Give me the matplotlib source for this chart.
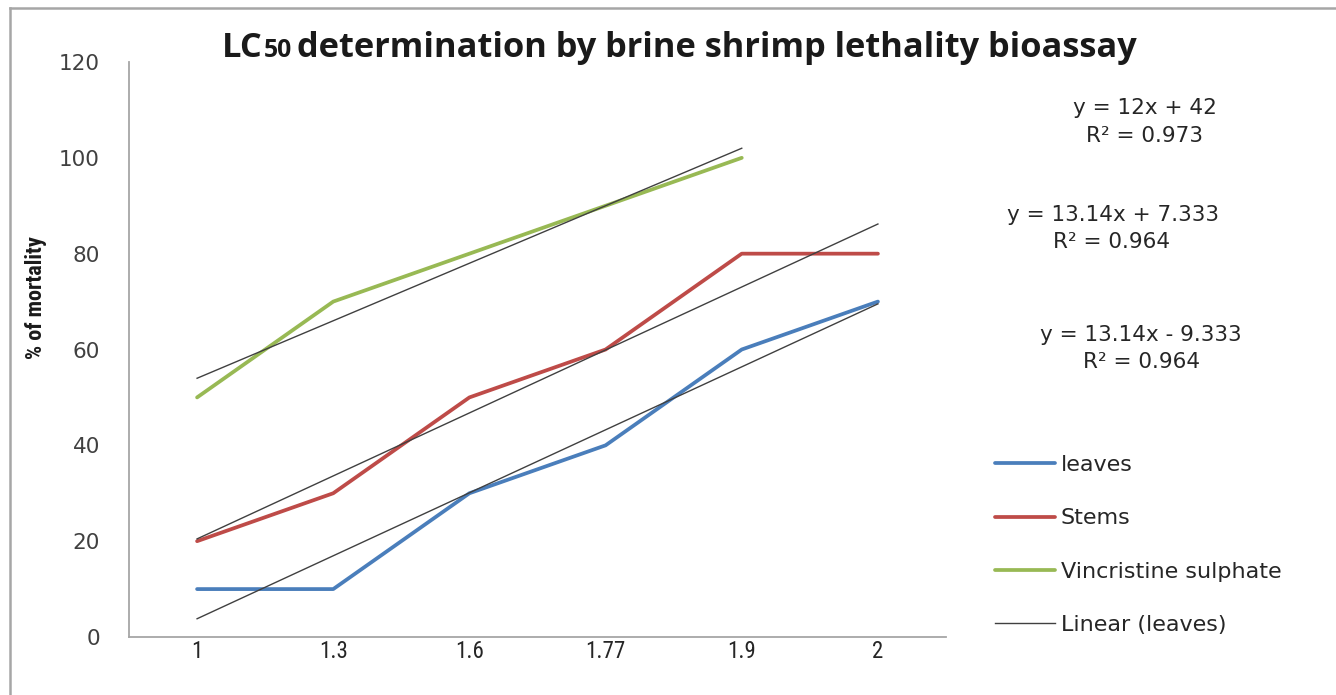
import numpy as np
import matplotlib
matplotlib.use("Agg")
import matplotlib.pyplot as plt
from matplotlib.lines import Line2D

categories = ["1", "1.3", "1.6", "1.77", "1.9", "2"]
leaves = [10, 10, 30, 40, 60, 70]
stems = [20, 30, 50, 60, 80, 80]
vincristine = [50, 70, 80, 90, 100]
eq_labels = [("y = 12x + 42", "R² = 0.973"),
             ("y = 13.14x + 7.333", "R² = 0.964"),
             ("y = 13.14x - 9.333", "R² = 0.964")]

W, H = 1336, 695
fig = plt.figure(figsize=(W / 100, H / 100), dpi=100)
fig.patch.set_facecolor("white")

def fx(px):
    return px / W

def fy(py):
    return 1 - py / H

ax = fig.add_axes([fx(129), fy(637), fx(946) - fx(129), fy(62) - fy(637)])

idx_l = np.arange(1, len(leaves) + 1)
idx_s = np.arange(1, len(stems) + 1)
idx_v = np.arange(1, len(vincristine) + 1)

c_blue, c_red, c_green = "#4A7EBB", "#BE4B48", "#98B954"
lw = 2.7
l1, = ax.plot(idx_l, leaves, color=c_blue, lw=lw, solid_capstyle="round", solid_joinstyle="round", label="leaves")
l2, = ax.plot(idx_s, stems, color=c_red, lw=lw, solid_capstyle="round", solid_joinstyle="round", label="Stems")
l3, = ax.plot(idx_v, vincristine, color=c_green, lw=lw, solid_capstyle="round", solid_joinstyle="round", label="Vincristine sulphate")

trend_handles = []
for xs, ys in [(idx_l, leaves), (idx_s, stems), (idx_v, vincristine)]:
    m, b = np.polyfit(xs, ys, 1)
    h, = ax.plot(xs, m * xs + b, color="#404040", lw=1.0)
    trend_handles.append(h)

narrow = ["Liberation Sans Narrow", "Roboto Condensed", "Roboto"]
ax.set_xlim(0.5, len(categories) + 0.5)
ax.set_ylim(0, 120)
ax.set_xticks(idx_l)
ax.set_xticklabels(categories, family=narrow, fontsize=16.5, color="#262626")
ax.set_yticks(np.arange(0, 121, 20))
ax.tick_params(axis="y", length=0, pad=21, labelsize=15.5, labelcolor="#404040")
ax.tick_params(axis="x", length=0, pad=2)
for s in ["top", "right"]:
    ax.spines[s].set_visible(False)
for s in ["left", "bottom"]:
    ax.spines[s].set_color("#A6A6A6")
    ax.spines[s].set_linewidth(1.3)

# y label
fig.text(fx(36), fy(298), "% of mortality", rotation=90, ha="center", va="center",
         family=narrow, fontweight="bold", fontsize=16, color="#1a1a1a")

# title with small "50" (fit to reference width)
fig.canvas.draw()
r = fig.canvas.get_renderer()
tfam = "Open Sans"
tsize = 21
title_parts = []
def draw_title(size):
    for t in title_parts:
        t.remove()
    title_parts.clear()
    t1 = fig.text(fx(222), fy(57), "LC", ha="left", va="baseline", family=tfam,
                  fontweight="bold", fontsize=size, color="#1a1a1a")
    title_parts.append(t1)
    bb = t1.get_window_extent(r)
    t2 = fig.text(bb.x1 / W + 0.0005, fy(57), "50", ha="left", va="baseline", family=tfam,
                  fontweight="bold", fontsize=size * 0.72, color="#1a1a1a")
    title_parts.append(t2)
    bb2 = t2.get_window_extent(r)
    t3 = fig.text(bb2.x1 / W + 0.004, fy(57), "determination by brine shrimp lethality bioassay",
                  ha="left", va="baseline", family=tfam, fontweight="bold", fontsize=size, color="#1a1a1a")
    title_parts.append(t3)
    return t3.get_window_extent(r).x1
x_end = draw_title(tsize)
tsize = tsize * (1138 - 222) / (x_end - 222)
draw_title(tsize)

# equations
eq_pos = [((1145, 108), (1145, 136)), ((1113, 215), (1112, 242)), ((1141, 335), (1142, 362))]
for (e, r2), (p1, p2) in zip(eq_labels, eq_pos):
    fig.text(fx(p1[0]), fy(p1[1]), e, ha="center", va="center", fontsize=15.5, color="#262626")
    fig.text(fx(p2[0]), fy(p2[1]), r2, ha="center", va="center", fontsize=15.5, color="#262626")

# legend
leg = fig.legend([l1, l2, l3, trend_handles[0]],
                 ["leaves", "Stems", "Vincristine sulphate", "Linear (leaves)"],
                 loc="center left", bbox_to_anchor=(fx(995), fy(545)),
                 frameon=False, fontsize=16, handlelength=2.7, handletextpad=0.25,
                 labelspacing=1.5, borderpad=0, borderaxespad=0)
for t in leg.get_texts():
    t.set_color("#262626")

# outer frame
fig.add_artist(Line2D([fx(10), fx(10)], [fy(8), 0], color="#A6A6A6", lw=1.8))
fig.add_artist(Line2D([fx(10), 1], [fy(8), fy(8)], color="#A6A6A6", lw=1.8))

fig.savefig("out.png", dpi=100)
